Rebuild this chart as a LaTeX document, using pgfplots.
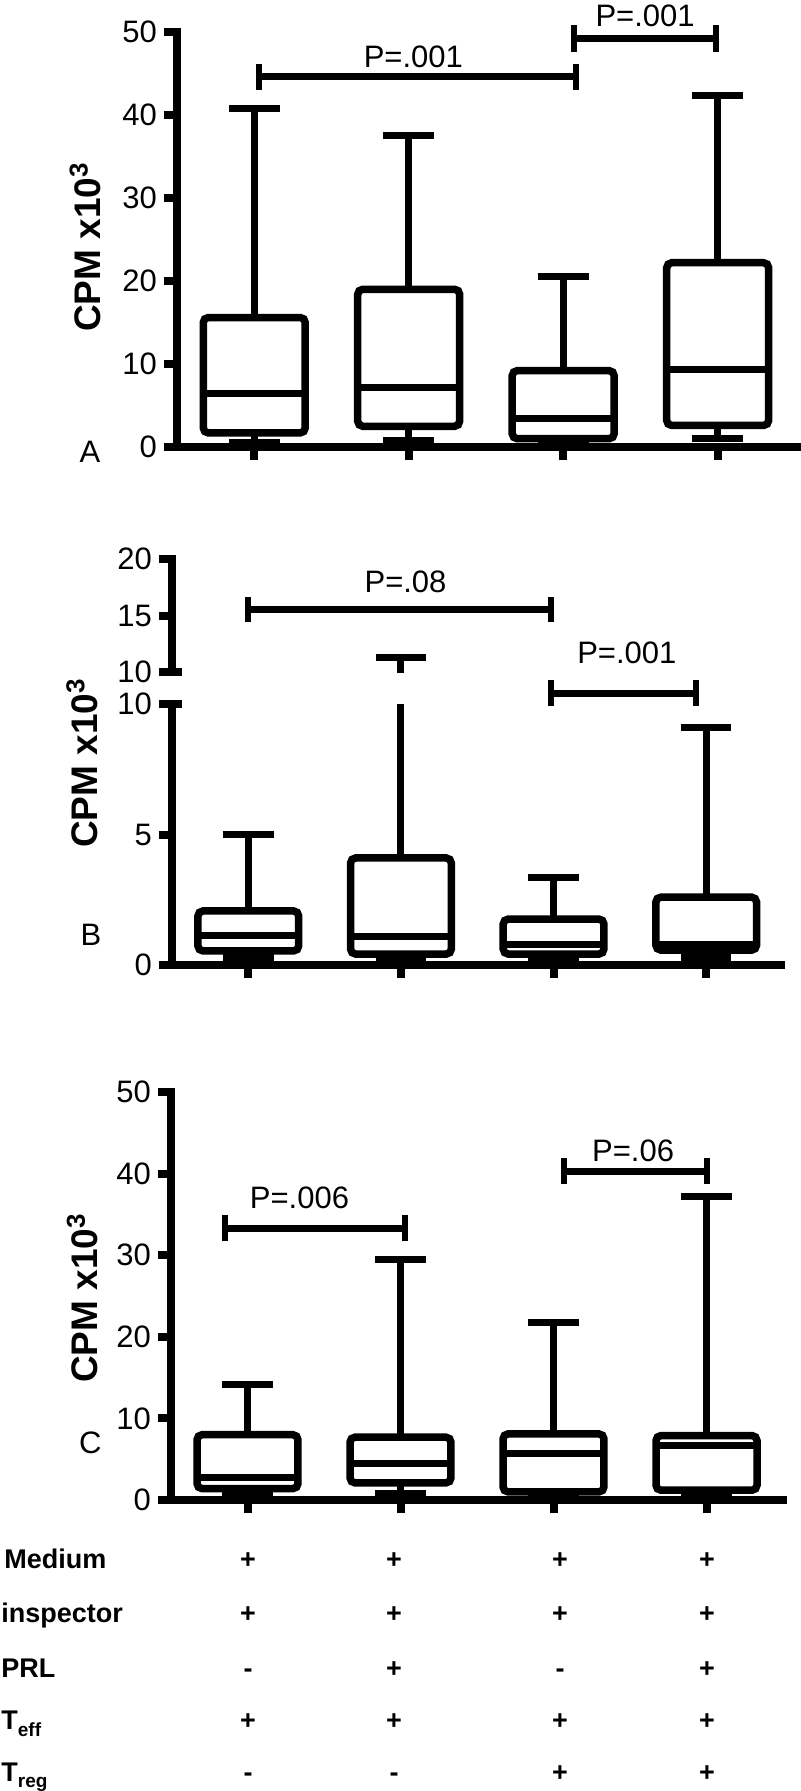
\documentclass[border=0pt]{standalone}
\usepackage{fontspec}
\setmainfont{Liberation Sans}
\usepackage{pgfplots}
\pgfplotsset{compat=1.18}
\usepgfplotslibrary{statistics}

\pgfplotsset{
  cpm/.style={
    scale only axis,
    anchor=south west,
    xmin=0.5,
    axis x line*=bottom, axis y line*=left,
    axis line style={line width=4pt, line cap=rect, -},
    xtick={1,2,3,4}, xticklabels={},
    xtick pos=bottom, ytick pos=left,
    tick align=outside,
    major tick length=6.5pt,
    major tick style={line width=4pt, black},
    /pgf/number format/assume math mode=true,
    tick label style={font=\fontsize{15.5}{16}\selectfont},
    clip mode=individual,
    boxplot/draw direction=y,
    boxplot/box extend=0.66,
    boxplot/whisker extend=0.33,
    boxplot/every box/.style={line width=3.75pt, rounded corners=2.5pt},
    boxplot/every whisker/.style={line width=3.5pt},
    boxplot/every median/.style={line width=3.5pt},
  },
}
\tikzset{
  pbar/.style={line width=3.5pt},
  pend/.style={line width=3pt},
}
\newcommand{\ptxt}{\fontsize{15.5}{16}\selectfont}
\newcommand{\ylab}{\fontsize{18.5}{20}\selectfont\bfseries CPM x10\textsuperscript{3}}
\newcommand{\tabf}{\fontsize{13.5}{14}\selectfont\bfseries}
\newcommand{\subf}{\fontsize{9.5}{10}\selectfont\bfseries}

\begin{document}
\begin{tikzpicture}
% ---------------- Panel A ----------------
\begin{axis}[cpm, at={(88.5pt,-223.5pt)}, width=310.5pt, height=207.5pt,
  xmax=4.52, ymin=0, ymax=50, ytick={0,10,20,30,40,50}]
\addplot[boxplot prepared={draw position=1, lower whisker=0.6, lower quartile=1.7, median=6.5, upper quartile=15.6, upper whisker=40.8}] coordinates {};
\addplot[boxplot prepared={draw position=2, lower whisker=0.8, lower quartile=2.5, median=7.2, upper quartile=19.0, upper whisker=37.5}] coordinates {};
\addplot[boxplot prepared={draw position=3, lower whisker=0.4, lower quartile=1.0, median=3.4, upper quartile=9.2, upper whisker=20.5}] coordinates {};
\addplot[boxplot prepared={draw position=4, lower whisker=1.0, lower quartile=2.6, median=9.3, upper quartile=22.2, upper whisker=42.4}] coordinates {};
\draw[pbar] (axis cs:1.03,44.6) -- (axis cs:3.08,44.6);
\draw[pend] (axis cs:1.03,43.0) -- (axis cs:1.03,46.2);
\draw[pend] (axis cs:3.08,43.0) -- (axis cs:3.08,46.2);
\node[font=\ptxt] at (axis cs:2.03,47.0) {P=.001};
\draw[pbar] (axis cs:3.07,49.2) -- (axis cs:3.99,49.2);
\draw[pend] (axis cs:3.07,47.6) -- (axis cs:3.07,50.8);
\draw[pend] (axis cs:3.99,47.6) -- (axis cs:3.99,50.8);
\node[font=\ptxt] at (axis cs:3.53,52.0) {P=.001};
\node[rotate=90] at (axis description cs:-0.148,0.482) {\ylab};
\node[font=\ptxt] at (axis description cs:-0.14,-0.012) {A};
\end{axis}

% ---------------- Panel B (lower part) ----------------
\begin{axis}[cpm, at={(86pt,-482.5pt)}, width=304.5pt, height=130.5pt,
  xmax=4.49, ymin=0, ymax=10, ytick={0,5,10}]
\addplot[boxplot prepared={draw position=1, lower whisker=0.3, lower quartile=0.54, median=1.12, upper quartile=2.07, upper whisker=5.0}] coordinates {};
\addplot[boxplot prepared={draw position=2, lower whisker=0.2, lower quartile=0.42, median=1.1, upper quartile=4.1, upper whisker=11.3}] coordinates {};
\addplot[boxplot prepared={draw position=3, lower whisker=0.2, lower quartile=0.42, median=0.77, upper quartile=1.76, upper whisker=3.37}] coordinates {};
\addplot[boxplot prepared={draw position=4, lower whisker=0.3, lower quartile=0.57, median=0.8, upper quartile=2.6, upper whisker=9.1}] coordinates {};
\draw[line width=4pt] (rel axis cs:0,1) -- ++(5pt,0pt);
\draw[pbar] (axis cs:2.98,10.42) -- (axis cs:3.93,10.42);
\draw[pend] (axis cs:2.98,9.92) -- (axis cs:2.98,10.92);
\draw[pend] (axis cs:3.93,9.92) -- (axis cs:3.93,10.92);
\node[font=\ptxt] at (axis cs:3.48,11.95) {P=.001};
\node[rotate=90] at (axis description cs:-0.148,0.774) {\ylab};
\node[font=\ptxt] at (axis description cs:-0.133,0.115) {B};
\end{axis}

% ---------------- Panel B (upper part) ----------------
\begin{axis}[cpm, at={(86pt,-336pt)}, width=304.5pt, height=56.5pt,
  xmax=4.49, ymin=10, ymax=20, ytick={10,15,20}, hide x axis]
\addplot[boxplot prepared={draw position=2, lower whisker=0.2, lower quartile=0.42, median=1.1, upper quartile=4.1, upper whisker=11.3}] coordinates {};
\draw[line width=4pt] (rel axis cs:0,0) -- ++(5pt,0pt);
\draw[pbar] (axis cs:1.0,15.5) -- (axis cs:2.98,15.5);
\draw[pend] (axis cs:1.0,14.4) -- (axis cs:1.0,16.6);
\draw[pend] (axis cs:2.98,14.4) -- (axis cs:2.98,16.6);
\node[font=\ptxt] at (axis cs:2.03,17.96) {P=.08};
\end{axis}

% ---------------- Panel C ----------------
\begin{axis}[cpm, at={(85.5pt,-750pt)}, width=306pt, height=204pt,
  xmax=4.5, ymin=0, ymax=50, ytick={0,10,20,30,40,50}]
\addplot[boxplot prepared={draw position=1, lower whisker=0.5, lower quartile=1.4, median=2.8, upper quartile=8.0, upper whisker=14.2}] coordinates {};
\addplot[boxplot prepared={draw position=2, lower whisker=0.8, lower quartile=2.1, median=4.5, upper quartile=7.7, upper whisker=29.5}] coordinates {};
\addplot[boxplot prepared={draw position=3, lower whisker=0.3, lower quartile=1.0, median=5.7, upper quartile=8.1, upper whisker=21.7}] coordinates {};
\addplot[boxplot prepared={draw position=4, lower whisker=0.5, lower quartile=1.2, median=6.7, upper quartile=7.9, upper whisker=37.2}] coordinates {};
\draw[pbar] (axis cs:0.85,33.3) -- (axis cs:2.03,33.3);
\draw[pend] (axis cs:0.85,31.7) -- (axis cs:0.85,34.9);
\draw[pend] (axis cs:2.03,31.7) -- (axis cs:2.03,34.9);
\node[font=\ptxt] at (axis cs:1.34,37.0) {P=.006};
\draw[pbar] (axis cs:3.07,40.3) -- (axis cs:4.0,40.3);
\draw[pend] (axis cs:3.07,38.7) -- (axis cs:3.07,41.9);
\draw[pend] (axis cs:4.0,38.7) -- (axis cs:4.0,41.9);
\node[font=\ptxt] at (axis cs:3.52,42.8) {P=.06};
\node[rotate=90] at (axis description cs:-0.145,0.495) {\ylab};
\node[font=\ptxt] at (axis description cs:-0.132,0.14) {C};
\end{axis}

% ---------------- Condition table ----------------
\node[anchor=base west, font=\tabf, inner sep=0pt] at (2pt,-784pt) {Medium};
\node[anchor=base west, font=\tabf, inner sep=0pt] at (0.5pt,-811pt) {inspector};
\node[anchor=base west, font=\tabf, inner sep=0pt] at (0.5pt,-838.5pt) {PRL};
\node[anchor=base west, font=\tabf, inner sep=0pt] at (0.5pt,-864.5pt) {T\raisebox{-0.28em}{\subf eff}};
\node[anchor=base west, font=\tabf, inner sep=0pt] at (0.5pt,-890.5pt) {T\raisebox{-0.25em}{\subf reg}};
\foreach \x/\a/\b/\c/\d/\e in {124/+/+/-/+/-, 197/+/+/+/+/-, 280/+/+/-/+/+, 353.5/+/+/+/+/+} {
  \node[anchor=base, font=\tabf, inner sep=0pt] at (\x pt,-784pt) {\a};
  \node[anchor=base, font=\tabf, inner sep=0pt] at (\x pt,-811pt) {\b};
  \node[anchor=base, font=\tabf, inner sep=0pt] at (\x pt,-838.5pt) {\c};
  \node[anchor=base, font=\tabf, inner sep=0pt] at (\x pt,-864.5pt) {\d};
  \node[anchor=base, font=\tabf, inner sep=0pt] at (\x pt,-890.5pt) {\e};
}
\pgfresetboundingbox
\path[use as bounding box] (0,0) rectangle (400pt,-895.5pt);
\end{tikzpicture}
\end{document}
